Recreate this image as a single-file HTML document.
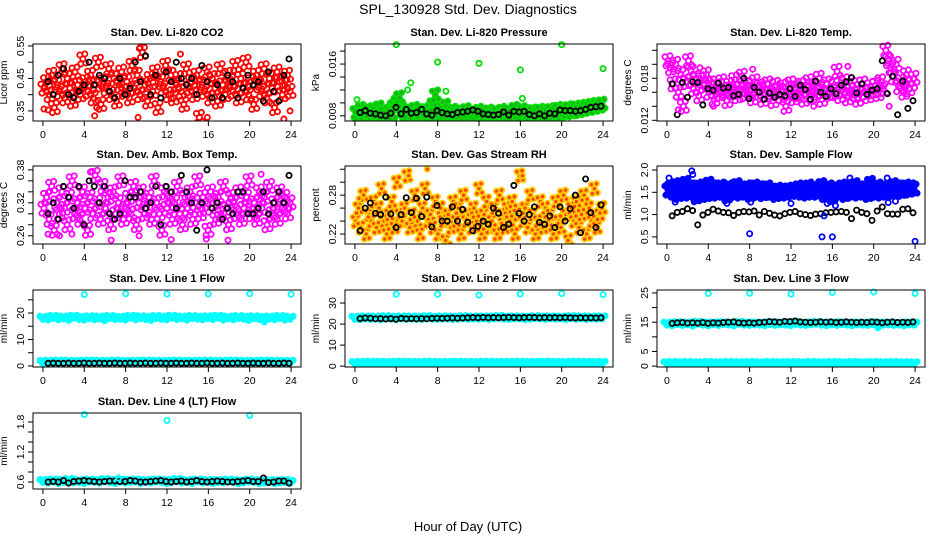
<!DOCTYPE html>
<html><head><meta charset="utf-8"><style>
body{margin:0;background:#fff;}
svg{display:block;font-family:"Liberation Sans",sans-serif;}
</style></head><body>
<svg id="chart" width="936" height="540" viewBox="0 0 936 540" xmlns="http://www.w3.org/2000/svg">
<rect width="936" height="540" fill="#fff"/>
<text x="468" y="14" text-anchor="middle" font-size="14">SPL_130928  Std. Dev. Diagnostics</text>
<text x="468" y="531" text-anchor="middle" font-size="13">Hour of Day (UTC)</text>
</svg>
<script>
const xTicks = [0,4,8,12,16,20,24];

const co2Main = [0.42,0.44,0.40,0.46,0.36,0.43,0.41,0.48,0.39,0.45,0.42,0.38,0.47,0.43,0.40,0.51,0.44,0.41,0.46,0.39,0.43,0.50,0.37,0.44,0.42,0.48,0.40,0.45,0.38,0.43,0.47,0.41,0.44,0.39,0.49,0.42,0.46,0.40,0.53,0.43,0.38,0.45,0.41,0.47,0.36,0.44,0.42,0.49,0.40,0.46,0.39,0.43,0.45,0.41,0.37,0.48,0.42,0.44,0.40,0.46,0.33,0.43,0.41,0.47,0.39,0.45,0.42,0.38,0.48,0.43,0.40,0.46,0.44,0.41,0.49,0.39,0.45,0.42,0.50,0.40,0.44,0.37,0.46,0.43,0.41,0.48,0.39,0.45,0.42,0.36,0.47,0.44,0.40,0.43,0.46,0.41];
const co2Black = [0.44,0.40,0.46,0.48,0.40,0.39,0.41,0.43,0.50,0.43,0.46,0.45,0.41,0.39,0.45,0.40,0.42,0.50,0.44,0.52,0.40,0.46,0.39,0.47,0.44,0.50,0.45,0.43,0.45,0.40,0.49,0.44,0.39,0.43,0.39,0.46,0.44,0.39,0.42,0.46,0.43,0.44,0.38,0.47,0.41,0.38,0.46,0.51];
const co2Out = [[0.1,0.356],[0.5,0.353],[5,0.335],[5.2,0.36],[9.2,0.33],[9.4,0.545],[13.3,0.525],[15.9,0.33],[23.3,0.325],[23.9,0.35]];

const presMain = [0.0085,0.0080,0.0090,0.0082,0.0078,0.0088,0.0081,0.0076,0.0086,0.0092,0.0080,0.0084,0.0079,0.0087,0.0083,0.0095,0.0101,0.0108,0.0089,0.0082,0.0086,0.0079,0.0084,0.0090,0.0081,0.0085,0.0078,0.0088,0.0083,0.0080,0.0097,0.0112,0.0090,0.0082,0.0086,0.0095,0.0081,0.0079,0.0087,0.0084,0.0080,0.0086,0.0082,0.0088,0.0081,0.0079,0.0085,0.0083,0.0087,0.0080,0.0084,0.0078,0.0086,0.0082,0.0081,0.0085,0.0079,0.0087,0.0083,0.0080,0.0086,0.0082,0.0090,0.0084,0.0081,0.0088,0.0079,0.0085,0.0082,0.0086,0.0080,0.0084,0.0087,0.0081,0.0085,0.0083,0.0088,0.0082,0.0086,0.0090,0.0084,0.0088,0.0087,0.0091,0.0086,0.0089,0.0092,0.0088,0.0093,0.0090,0.0094,0.0092,0.0096,0.0093,0.0097,0.0095,0.0098];
const presBlack = [0.0085,0.0088,0.0084,0.0083,0.0081,0.0080,0.0084,0.0093,0.0083,0.0090,0.0084,0.0085,0.0090,0.0083,0.0081,0.0088,0.0085,0.0083,0.0082,0.0085,0.0086,0.0087,0.0089,0.0087,0.0083,0.0082,0.0081,0.0082,0.0086,0.0081,0.0087,0.0086,0.0087,0.0082,0.0080,0.0083,0.0080,0.0084,0.0083,0.0089,0.0088,0.0088,0.0087,0.0088,0.0090,0.0093,0.0094,0.0095];
const presOut = [[4,0.0190],[20,0.0190],[8,0.0163],[12,0.0161],[16,0.0151],[24,0.0153],[5.4,0.0131],[5.1,0.0120],[8,0.0120],[8.8,0.0118],[16.2,0.0107],[0.2,0.0105],[3.4,0.0100]];

const tempMain = [0.0205,0.0195,0.0172,0.0200,0.0160,0.0185,0.0140,0.0175,0.0205,0.0190,0.0165,0.0180,0.0155,0.0178,0.0170,0.0185,0.0160,0.0172,0.0150,0.0168,0.0158,0.0175,0.0163,0.0148,0.0170,0.0160,0.0178,0.0155,0.0165,0.0183,0.0158,0.0170,0.0162,0.0152,0.0175,0.0160,0.0168,0.0150,0.0165,0.0172,0.0158,0.0148,0.0170,0.0162,0.0155,0.0168,0.0140,0.0160,0.0172,0.0152,0.0165,0.0158,0.0170,0.0150,0.0163,0.0175,0.0155,0.0168,0.0160,0.0180,0.0150,0.0165,0.0172,0.0158,0.0160,0.0170,0.0190,0.0155,0.0165,0.0175,0.0152,0.0162,0.0170,0.0158,0.0150,0.0165,0.0172,0.0160,0.0155,0.0168,0.0162,0.0170,0.0158,0.0175,0.0165,0.0220,0.0205,0.0195,0.0182,0.0200,0.0168,0.0175,0.0160,0.0185,0.0165,0.0172,0.0180];
const tempBlack = [0.0172,0.0128,0.0174,0.0153,0.0175,0.0174,0.0142,0.0165,0.0163,0.0173,0.0166,0.0167,0.0155,0.0157,0.0180,0.0151,0.0167,0.0160,0.0150,0.0159,0.0153,0.0157,0.0155,0.0165,0.0154,0.0170,0.0164,0.0150,0.0176,0.0160,0.0154,0.0165,0.0158,0.0170,0.0175,0.0181,0.0159,0.0172,0.0157,0.0163,0.0165,0.0205,0.0158,0.0183,0.0128,0.0176,0.0137,0.0148];
const tempOut = [[1.1,0.0135],[4.5,0.0140],[14.2,0.0140],[21.5,0.0140],[3.2,0.0195],[8.3,0.0193],[17.5,0.0197]];

const boxMain = [0.31,0.33,0.29,0.35,0.27,0.32,0.30,0.34,0.31,0.28,0.33,0.36,0.30,0.32,0.29,0.34,0.31,0.27,0.33,0.30,0.37,0.32,0.29,0.35,0.31,0.33,0.28,0.34,0.30,0.32,0.36,0.29,0.31,0.33,0.30,0.35,0.28,0.32,0.34,0.30,0.31,0.33,0.29,0.36,0.32,0.30,0.27,0.34,0.31,0.33,0.29,0.32,0.35,0.30,0.28,0.33,0.31,0.34,0.29,0.32,0.36,0.30,0.33,0.31,0.27,0.34,0.32,0.29,0.33,0.30,0.35,0.31,0.28,0.33,0.32,0.30,0.34,0.29,0.31,0.33,0.36,0.30,0.32,0.29,0.34,0.31,0.33,0.28,0.35,0.30,0.32,0.29,0.34,0.31,0.33,0.30,0.32];
const boxBlack = [0.30,0.32,0.29,0.35,0.33,0.31,0.35,0.28,0.36,0.35,0.32,0.35,0.30,0.29,0.30,0.36,0.33,0.33,0.34,0.31,0.32,0.35,0.28,0.35,0.34,0.31,0.37,0.34,0.32,0.27,0.32,0.38,0.31,0.32,0.29,0.31,0.30,0.34,0.34,0.30,0.30,0.31,0.34,0.30,0.32,0.34,0.32,0.37];
const boxOut = [[0.5,0.263],[1.6,0.26],[2.8,0.263],[6.6,0.252],[9.3,0.26],[12.4,0.253],[15.8,0.254],[17.9,0.252],[4.6,0.376],[21.1,0.372]];

const rhMain = [0.24,0.26,0.23,0.28,0.22,0.25,0.24,0.27,0.23,0.26,0.29,0.24,0.22,0.25,0.27,0.23,0.30,0.25,0.24,0.26,0.31,0.23,0.25,0.28,0.24,0.22,0.26,0.29,0.24,0.25,0.23,0.27,0.22,0.26,0.24,0.21,0.25,0.23,0.27,0.24,0.26,0.22,0.28,0.24,0.25,0.23,0.26,0.24,0.29,0.22,0.25,0.27,0.23,0.24,0.26,0.22,0.28,0.25,0.23,0.26,0.24,0.27,0.22,0.25,0.31,0.24,0.26,0.23,0.28,0.25,0.22,0.24,0.27,0.23,0.26,0.24,0.25,0.22,0.27,0.24,0.23,0.28,0.25,0.21,0.26,0.24,0.27,0.23,0.25,0.28,0.22,0.26,0.24,0.29,0.23,0.25,0.26];
const rhBlack = [0.225,0.26,0.268,0.252,0.25,0.277,0.251,0.23,0.25,0.276,0.253,0.275,0.247,0.277,0.231,0.264,0.24,0.24,0.262,0.24,0.258,0.238,0.225,0.232,0.24,0.235,0.26,0.252,0.23,0.235,0.295,0.252,0.24,0.25,0.262,0.238,0.235,0.248,0.23,0.262,0.24,0.259,0.28,0.222,0.305,0.253,0.23,0.265];
const rhOut = [[7,0.32],[5.2,0.31],[16.2,0.31],[9.2,0.205],[0.4,0.275],[20.6,0.21]];

const flowMain = [1.55,1.6,1.5,1.65,1.45,1.58,1.52,1.7,1.48,1.6,1.55,1.4,1.62,1.5,1.57,1.45,1.68,1.52,1.6,1.48,1.55,1.62,1.5,1.42,1.6,1.55,1.5,1.65,1.48,1.57,1.52,1.6,1.45,1.55,1.62,1.5,1.58,1.47,1.55,1.6,1.5,1.52,1.45,1.55,1.5,1.53,1.48,1.55,1.5,1.56,1.52,1.6,1.5,1.55,1.48,1.62,1.52,1.56,1.5,1.58,1.65,1.45,1.55,1.6,1.4,1.52,1.58,1.5,1.62,1.45,1.55,1.6,1.5,1.65,1.48,1.57,1.52,1.6,1.45,1.7,1.55,1.5,1.62,1.48,1.58,1.55,1.6,1.5,1.65,1.55,1.6,1.52,1.58,1.62,1.55,1.6,1.57];
const flowBlack = [0.97,1.05,1.07,1.13,1.09,0.77,0.99,1.05,1.12,1.08,1.05,1.04,0.98,1.05,1.07,1.06,1.08,0.99,1.07,1.03,0.99,0.97,1.02,1.05,1.07,1.02,1.0,0.98,1.01,1.02,1.04,1.05,1.06,1.07,1.05,0.91,1.1,1.05,1.02,0.87,1.08,1.17,1.02,1.01,1.01,1.12,1.13,1.04];
const flowOut = [[0.2,1.82],[2.4,1.98],[2.5,1.9],[0.8,1.28],[5.8,1.25],[8,0.57],[8.1,1.28],[12,1.25],[15,0.5],[16,0.5],[16.3,1.2],[15.5,1.25],[17.7,1.82],[21.3,1.82],[21.4,1.27],[24,0.4],[15.2,0.97],[22.1,1.3]];

const l1High = [18.2,17.9,18.5,18.0,18.3,17.8,18.6,18.1,17.9,18.4,18.0,18.3,17.7,18.5,18.1,18.2,17.9,18.6,18.0,18.4,18.1,17.8,18.5,18.2,18.0,18.6,18.1,18.3,17.9,18.5,18.2,18.0,18.4,18.1,18.6,17.9,18.3,18.0,18.5,18.2,17.8,18.4,18.1,17.2,18.3,18.0,18.5,17.9,18.2];
const l1Low = [1.5,1.6,1.4,1.7,1.5,1.6,1.5,1.4,1.6,1.7,1.5,1.6,1.4,1.5,1.7,1.6,1.5,1.4,1.6,1.5,1.7,1.5,1.6,1.4,1.5,1.6,1.7,1.5,1.4,1.6,1.5,1.6,1.7,1.5,1.4,1.6,1.5,1.7,1.6,1.5,1.4,1.6,1.5,1.7,1.5,1.6,1.4,1.5,1.6];
const l1Black = [1.0,1.1,1.0,1.0,1.1,1.0,1.0,1.1,1.0,1.0,1.1,1.0,1.0,1.1,1.0,1.0,1.1,1.0,1.0,1.1,1.0,1.0,1.1,1.0,1.0,1.1,1.0,1.0,1.1,1.0,1.0,1.1,1.0,1.0,1.1,1.0,1.0,1.1,1.0,1.0,1.1,1.0,1.0,1.1,1.0,1.0,1.1,1.0];
const l1Out = [[4,27],[8,27.3],[12,27.2],[16,27.2],[20,27.3],[24,27.1]];

const l2High = [23.0,22.8,23.2,22.9,23.1,22.7,23.3,23.0,22.8,23.2,22.9,23.1,23.0,22.8,23.3,23.0,22.9,23.2,23.1,22.8,23.0,23.3,22.9,23.1,23.0,23.2,22.8,23.1,23.4,23.0,22.9,23.2,23.1,22.8,23.0,23.3,23.1,22.9,23.2,23.0,23.1,22.8,23.3,23.0,23.2,22.9,23.1,23.0,23.2];
const l2Low = [1.5,1.6,1.4,1.7,1.5,1.6,1.5,1.4,1.6,1.7,1.5,1.6,1.4,1.5,1.7,1.6,1.5,1.4,1.6,1.5,1.7,1.5,1.6,1.4,1.5,1.6,1.7,1.5,1.4,1.6,1.5,1.6,1.7,1.5,1.4,1.6,1.5,1.7,1.6,1.5,1.4,1.6,1.5,1.7,1.5,1.6,1.4,1.5,1.6];
const l2Black = [22.6,22.9,22.8,22.5,22.6,22.4,22.6,22.3,22.7,22.5,22.6,22.5,22.6,22.5,22.7,22.8,22.7,22.8,22.9,22.8,22.9,23.0,23.1,23.0,23.2,23.0,23.1,23.0,23.1,23.2,23.1,23.0,23.1,23.2,23.1,23.0,23.1,23.0,23.1,23.0,23.1,23.0,22.9,23.0,22.9,23.0,22.9,23.0];
const l2Out = [[4,34.2],[8,34.2],[12,33.8],[16,34.3],[20,34.5],[24,34.0]];

const l3High = [14.5,14.3,14.7,14.4,14.6,14.2,14.8,14.5,14.3,14.6,14.4,14.7,14.5,14.3,14.8,14.5,14.4,14.6,14.5,14.3,14.7,14.4,14.6,14.5,14.3,14.7,14.5,14.4,14.6,14.8,14.5,14.3,14.6,14.4,14.7,14.5,14.3,14.6,14.5,14.4,14.7,13.6,14.5,14.6,14.4,14.5,14.3,14.6,14.5];
const l3Low = [1.0,1.1,0.9,1.0,1.1,1.0,0.9,1.0,1.1,1.0,0.9,1.0,1.1,1.0,1.0,0.9,1.1,1.0,1.0,0.9,1.1,1.0,1.0,0.9,1.1,1.0,1.0,0.9,1.1,1.0,1.0,0.9,1.1,1.0,1.0,0.9,1.1,1.0,1.0,0.9,1.1,1.0,1.0,0.9,1.1,1.0,1.0,0.9,1.0];
const l3Black = [14.6,14.8,14.9,14.7,14.8,14.7,14.9,14.6,14.8,14.7,14.9,15.0,15.1,14.8,14.7,14.8,14.7,14.9,15.0,15.2,15.1,15.0,15.3,15.2,15.4,15.1,15.0,14.9,15.0,15.1,15.0,15.1,14.9,15.0,15.1,15.0,14.9,15.0,14.9,15.1,15.0,14.8,15.0,15.1,14.9,15.0,14.9,15.1];
const l3Out = [[4,24.8],[8,24.9],[12,24.6],[16,25.2],[20,25.3],[24,24.8]];

const l4Main = [0.62,0.61,0.63,0.60,0.62,0.64,0.61,0.62,0.60,0.63,0.62,0.61,0.64,0.62,0.60,0.63,0.61,0.62,0.63,0.60,0.62,0.61,0.63,0.62,0.60,0.62,0.64,0.61,0.62,0.60,0.63,0.61,0.62,0.60,0.62,0.61,0.63,0.62,0.60,0.61,0.63,0.62,0.60,0.61,0.62,0.60,0.61,0.62,0.60];
const l4Black = [0.60,0.61,0.60,0.63,0.58,0.61,0.62,0.63,0.62,0.61,0.60,0.61,0.62,0.62,0.61,0.61,0.63,0.62,0.60,0.60,0.61,0.62,0.63,0.61,0.60,0.61,0.62,0.60,0.61,0.63,0.61,0.60,0.61,0.62,0.61,0.60,0.60,0.61,0.62,0.63,0.61,0.61,0.68,0.59,0.60,0.62,0.62,0.58];
const l4Out = [[4,1.95],[12,1.83],[20,1.93],[7.3,0.68]];

const NS = 'http://www.w3.org/2000/svg';
const svg = document.getElementById('chart');
function mk(tag, attrs, parent){
  const e = document.createElementNS(NS, tag);
  for (const k in attrs) e.setAttribute(k, attrs[k]);
  (parent||svg).appendChild(e);
  return e;
}
const colLeft = [33,345,657];
const rows = [[44,121],[166,244],[290,367],[413,489]];
const W = 268;
// marker glyph shapes (pixel offsets of the dense overplotted marker)
const cloudGlyph = [[-3,-4],[0,0],[3,4],[-2,5],[2,-5]];
const bandGlyph = [[-3,-1.5],[0,1.5],[3,-1.5]];
const singleGlyph = [[0,0]];

function panel(o){
  const L = colLeft[o.col], T = rows[o.row][0], B = rows[o.row][1];
  const g = mk('g', {});
  
  
  const xs = h => L + (h + 0.96) / 25.92 * W;
  const ys = v => B - (v - o.ymin) / (o.ymax - o.ymin) * (B - T);
  const t = mk('text', {x: L + W/2, y: T - 8, 'text-anchor':'middle', 'font-size':11, 'font-weight':'bold'}, g);
  t.textContent = o.title;
  
  
  const yl = mk('text', {x: 0, y: 0, 'text-anchor':'middle', 'font-size':10, transform:`translate(${L-26},${(T+B)/2}) rotate(-90)`}, g);
  yl.textContent = o.ylab;
  
  
  const xa = mk('g', {}, g);
  
  
  mk('line', {x1: xs(0), x2: xs(24), y1: B, y2: B, stroke:'#000'}, xa);
  xTicks.forEach(h => {
    mk('line', {x1: xs(h), x2: xs(h), y1: B, y2: B+5, stroke:'#000'}, xa);
    const tl = mk('text', {x: xs(h), y: B+17, 'text-anchor':'middle', 'font-size':10.5}, xa);
    tl.textContent = h;
    
    
  });
  const ya = mk('g', {}, g);
  
  
  mk('line', {x1: L, x2: L, y1: ys(o.yt[0]), y2: ys(o.yt[o.yt.length-1]), stroke:'#000'}, ya);
  o.yt.forEach(v => {
    mk('line', {x1: L-5, x2: L, y1: ys(v), y2: ys(v), stroke:'#000'}, ya);
  });
  o.yl.forEach(v => {
    const tl = mk('text', {x:0, y:0, 'text-anchor':'middle', 'font-size':10.5, transform:`translate(${L-9},${ys(v)}) rotate(-90)`}, ya);
    tl.textContent = v;
    
    
  });
  const clip = 'c' + o.name;
  const cp = mk('clipPath', {id: clip}, g);
  mk('rect', {x: L, y: T-3, width: W, height: B-T+3}, cp);
  const pts = mk('g', {'clip-path': `url(#${clip})`}, g);
  function series(vals, color, name, h0, h1, fill, glyph){
    const sg = mk('g', {}, pts);
    
    
    vals.forEach((v, i) => {
      const h = h0 + (h1 - h0) * i / (vals.length - 1);
      const cx = xs(h), cy = ys(v);
      (glyph||singleGlyph).forEach(d => {
        const c = mk('circle', {cx: cx + d[0], cy: cy + d[1], r: 2.6, fill: fill||'none', stroke: color, 'stroke-width': 1.8}, sg);
        
        
      });
    });
  }
  o.series.forEach(s => series(s.vals, s.color, s.name, s.h0, s.h1, s.fill, s.glyph));
  if (o.out) {
    const og = mk('g', {}, pts);
    
    
    o.out.forEach(p => {
      const c = mk('circle', {cx: xs(p[0]), cy: ys(p[1]), r: 2.6, fill: o.outFill||'none', stroke: o.outColor, 'stroke-width': 1.8}, og);
      
      
    });
  }
  mk('rect', {x: L, y: T, width: W, height: B-T, fill:'none', stroke:'#000'}, g);
}

panel({name:'panel-co2', col:0,row:0,title:'Stan. Dev. Li-820 CO2', ylab:'Licor ppm', ymin:0.319, ymax:0.556,
  yt:[0.35,0.40,0.45,0.50,0.55], yl:['0.35','0.45','0.55'],
  series:[{vals:co2Main,color:'#ff0000',name:'co2-series',h0:0.1,h1:23.9,glyph:cloudGlyph},{vals:co2Black,color:'#000',name:'co2-hourly-series',h0:0.5,h1:23.8}],
  out:co2Out, outColor:'#ff0000'});
panel({name:'panel-pressure', col:1,row:0,title:'Stan. Dev. Li-820 Pressure', ylab:'kPa', ymin:0.0072, ymax:0.0191,
  yt:[0.008,0.010,0.012,0.014,0.016,0.018], yl:['0.008','0.016'],
  series:[{vals:presMain,color:'#00dd00',name:'pressure-series',h0:0.1,h1:23.9,fill:'#22aa22',glyph:cloudGlyph},{vals:presBlack,color:'#000',name:'pressure-hourly-series',h0:0.5,h1:23.8}],
  out:presOut, outColor:'#00dd00'});
panel({name:'panel-temp', col:2,row:0,title:'Stan. Dev. Li-820 Temp.', ylab:'degrees C', ymin:0.0119, ymax:0.0229,
  yt:[0.012,0.014,0.016,0.018,0.020,0.022], yl:['0.012','0.018'],
  series:[{vals:tempMain,color:'#ff00ff',name:'temp-series',h0:0.1,h1:23.9,glyph:cloudGlyph},{vals:tempBlack,color:'#000',name:'temp-hourly-series',h0:0.5,h1:23.8}],
  out:tempOut, outColor:'#ff00ff'});
panel({name:'panel-box-temp', col:0,row:1,title:'Stan. Dev. Amb. Box Temp.', ylab:'degrees C', ymin:0.245, ymax:0.387,
  yt:[0.26,0.28,0.30,0.32,0.34,0.36,0.38], yl:['0.26','0.32','0.38'],
  series:[{vals:boxMain,color:'#ff00ff',name:'box-temp-series',h0:0.1,h1:23.9,glyph:cloudGlyph},{vals:boxBlack,color:'#000',name:'box-temp-hourly-series',h0:0.5,h1:23.8}],
  out:boxOut, outColor:'#ff00ff'});
panel({name:'panel-rh', col:1,row:1,title:'Stan. Dev. Gas Stream RH', ylab:'percent', ymin:0.2046, ymax:0.325,
  yt:[0.22,0.24,0.26,0.28,0.30,0.32], yl:['0.22','0.28'],
  series:[{vals:rhMain,color:'#ffcc00',name:'rh-series',h0:0.1,h1:23.9,fill:'#ff4400',glyph:cloudGlyph},{vals:rhBlack,color:'#000',name:'rh-hourly-series',h0:0.5,h1:23.8}],
  out:rhOut, outColor:'#ffcc00', outFill:'#ff4400'});
panel({name:'panel-sample-flow', col:2,row:1,title:'Stan. Dev. Sample Flow', ylab:'ml/min', ymin:0.34, ymax:2.09,
  yt:[0.5,1.0,1.5,2.0], yl:['0.5','1.0','1.5','2.0'],
  series:[{vals:flowMain,color:'#0000ff',name:'sample-flow-series',h0:0.1,h1:23.9,fill:'#0000ff',glyph:cloudGlyph},{vals:flowBlack,color:'#000',name:'sample-flow-hourly-series',h0:0.5,h1:23.8}],
  out:flowOut, outColor:'#0000ff'});
panel({name:'panel-line1', col:0,row:2,title:'Stan. Dev. Line 1 Flow', ylab:'ml/min', ymin:-0.4, ymax:28.7,
  yt:[0,5,10,15,20,25], yl:['0','10','20'],
  series:[{vals:l1High,color:'#00ffff',name:'line1-high-series',h0:0,h1:23.9,fill:'#00ffff',glyph:bandGlyph},{vals:l1Low,color:'#00ffff',name:'line1-low-series',h0:0,h1:23.9,fill:'#00ffff',glyph:bandGlyph},{vals:l1Black,color:'#000',name:'line1-hourly-series',h0:0.5,h1:23.8}],
  out:l1Out, outColor:'#00ffff'});
panel({name:'panel-line2', col:1,row:2,title:'Stan. Dev. Line 2 Flow', ylab:'ml/min', ymin:-0.4, ymax:36.2,
  yt:[0,10,20,30], yl:['0','10','20','30'],
  series:[{vals:l2High,color:'#00ffff',name:'line2-high-series',h0:0,h1:23.9,fill:'#00ffff',glyph:bandGlyph},{vals:l2Low,color:'#00ffff',name:'line2-low-series',h0:0,h1:23.9,fill:'#00ffff',glyph:bandGlyph},{vals:l2Black,color:'#000',name:'line2-hourly-series',h0:0.5,h1:23.8}],
  out:l2Out, outColor:'#00ffff'});
panel({name:'panel-line3', col:2,row:2,title:'Stan. Dev. Line 3 Flow', ylab:'ml/min', ymin:-0.3, ymax:26,
  yt:[0,5,10,15,20,25], yl:['0','5','15','25'],
  series:[{vals:l3High,color:'#00ffff',name:'line3-high-series',h0:0,h1:23.9,fill:'#00ffff',glyph:bandGlyph},{vals:l3Low,color:'#00ffff',name:'line3-low-series',h0:0,h1:23.9,fill:'#00ffff',glyph:bandGlyph},{vals:l3Black,color:'#000',name:'line3-hourly-series',h0:0.5,h1:23.8}],
  out:l3Out, outColor:'#00ffff'});
panel({name:'panel-line4', col:0,row:3,title:'Stan. Dev. Line 4 (LT) Flow', ylab:'ml/min', ymin:0.46, ymax:1.98,
  yt:[0.6,0.8,1.0,1.2,1.4,1.6,1.8], yl:['0.6','1.2','1.8'],
  series:[{vals:l4Main,color:'#00ffff',name:'line4-series',h0:0,h1:23.9,fill:'#00ffff',glyph:bandGlyph},{vals:l4Black,color:'#000',name:'line4-hourly-series',h0:0.5,h1:23.8}],
  out:l4Out, outColor:'#00ffff'});
</script>
</body></html>
